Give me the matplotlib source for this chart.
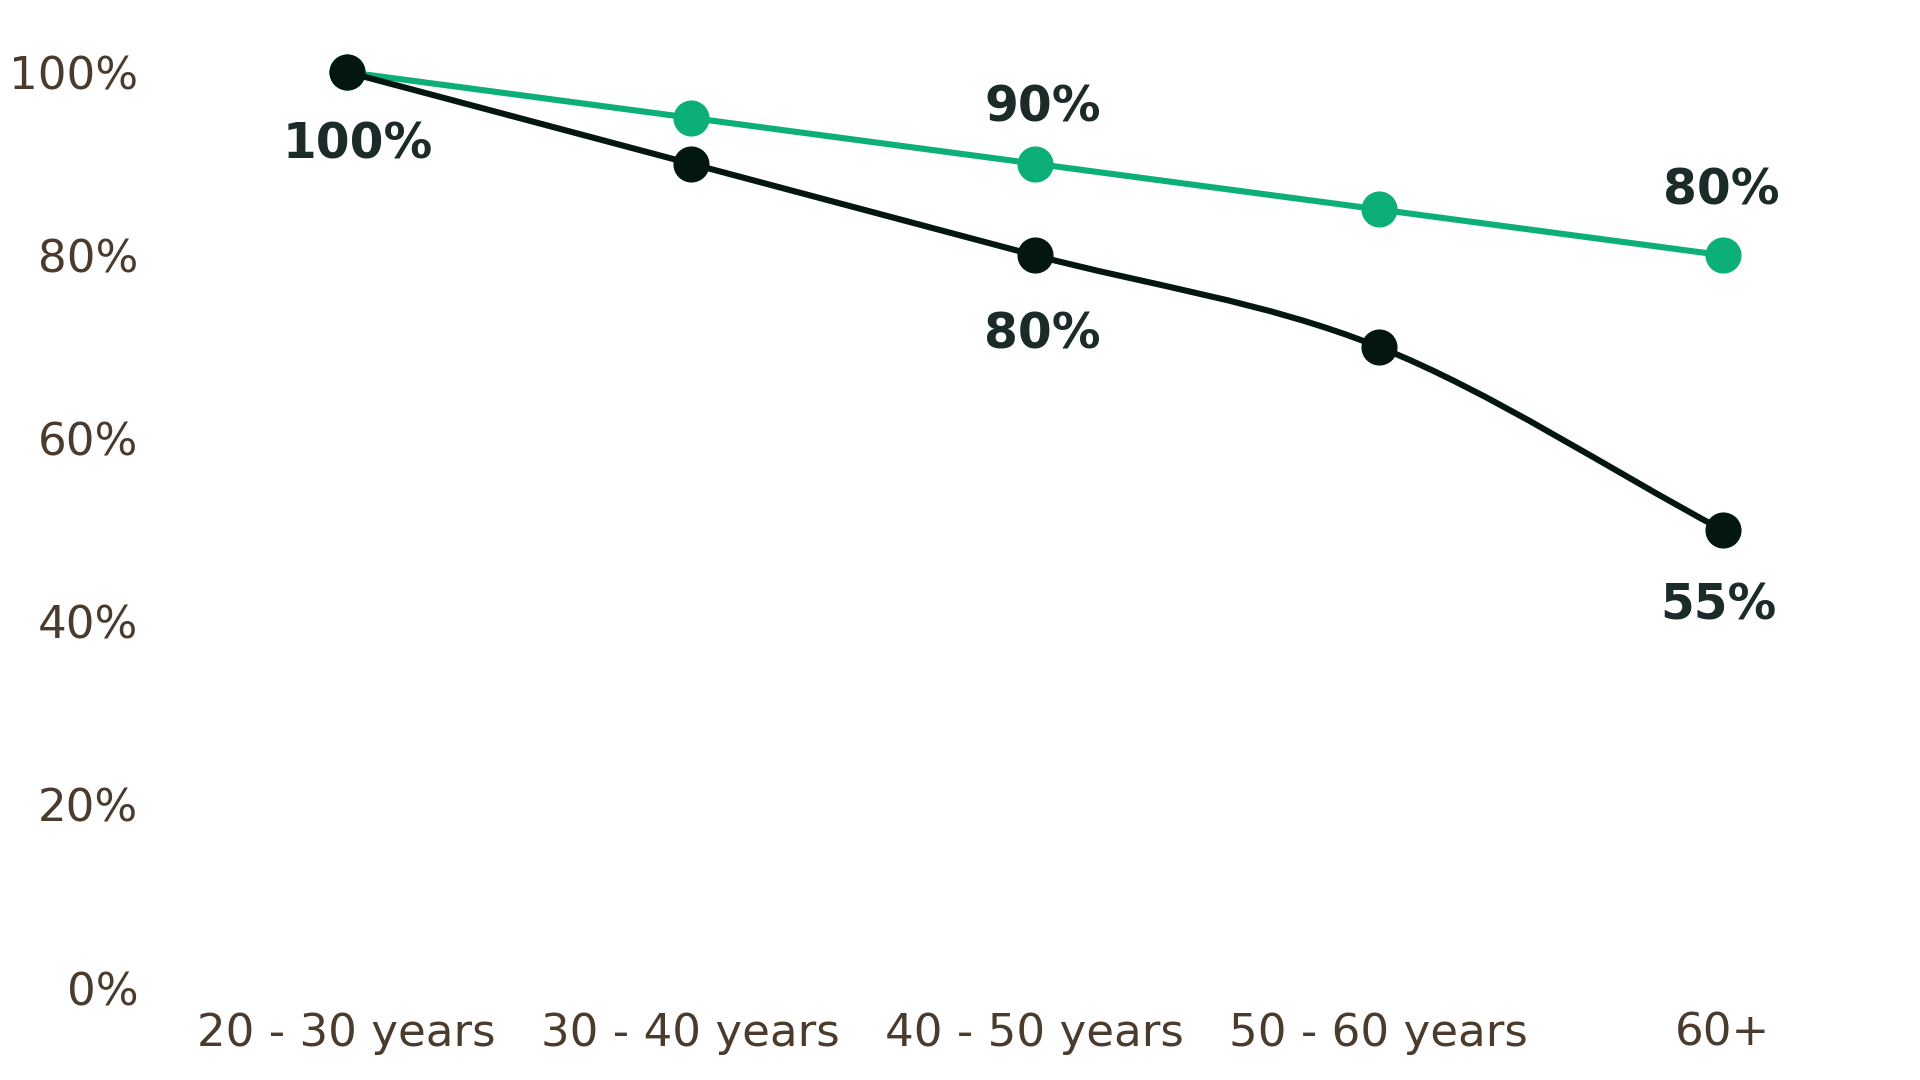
import matplotlib
matplotlib.use('Agg')
import matplotlib.pyplot as plt
from matplotlib.path import Path
from matplotlib.patches import PathPatch
from matplotlib.ticker import FuncFormatter

# data
age_groups = ['20 - 30 years', '30 - 40 years', '40 - 50 years', '50 - 60 years', '60+']
dark_values = [100, 90, 80, 70, 50]
green_values = [100, 95, 90, 85, 80]
dark_labels = ['100%', None, '80%', None, '55%']
green_labels = [None, None, '90%', None, '80%']

DARK = '#041611'
GREEN = '#0DAF78'
LABEL = '#1B2B29'
TICK = '#4A3B2D'

plt.rcParams['font.family'] = ['DejaVu Sans']


def monotone_path(xs, ys):
	# monotone cubic bezier through the points (like a smoothed line chart)
	n = len(xs)
	d = [(ys[i + 1] - ys[i]) / (xs[i + 1] - xs[i]) for i in range(n - 1)]
	m = [d[0]] + [0.0] * (n - 2) + [d[-1]]
	for i in range(1, n - 1):
		if d[i - 1] * d[i] <= 0:
			m[i] = 0.0
		else:
			m[i] = (d[i - 1] + d[i]) / 2
	verts = [(xs[0], ys[0])]
	codes = [Path.MOVETO]
	for i in range(n - 1):
		h = (xs[i + 1] - xs[i]) / 3
		verts += [(xs[i] + h, ys[i] + m[i] * h),
			(xs[i + 1] - h, ys[i + 1] - m[i + 1] * h),
			(xs[i + 1], ys[i + 1])]
		codes += [Path.CURVE4] * 3
	return Path(verts, codes)


fig = plt.figure(figsize=(19.2, 10.8), dpi=100)
ax = fig.add_axes([174.5 / 1920, 92 / 1080, 1720 / 1920, 916 / 1080])
xs = list(range(len(age_groups)))

for vals, col, z in [(green_values, GREEN, 2), (dark_values, DARK, 3)]:
	ax.add_patch(PathPatch(monotone_path(xs, vals), facecolor='none', edgecolor=col,
		linewidth=4.4, capstyle='round', zorder=z, clip_on=False))
	ax.plot(xs, vals, 'o', color=col, markersize=25, zorder=z + 0.5, clip_on=False)

# value labels
dark_off = [(11, -72), None, (8, -79), None, (-4, -75)]
green_off = [None, None, (8, 56), None, (-1, 65)]
for labels, vals, offs in [(dark_labels, dark_values, dark_off), (green_labels, green_values, green_off)]:
	for i, lab in enumerate(labels):
		if lab is None:
			continue
		ax.annotate(lab, (xs[i], vals[i]), xytext=offs[i], textcoords='offset pixels',
			ha='center', va='center', fontsize=35, fontweight='bold', color=LABEL)

ax.set_xlim(-0.5, len(age_groups) - 0.5)
ax.set_ylim(0, 100)
ax.set_xticks(xs)
ax.set_xticklabels(age_groups)
ax.set_yticks([0, 20, 40, 60, 80, 100])
ax.yaxis.set_major_formatter(FuncFormatter(lambda v, p: f'{int(v)}%'))
ax.tick_params(axis='both', length=0, labelsize=32.5, labelcolor=TICK)
ax.tick_params(axis='y', pad=26)
ax.tick_params(axis='x', pad=17)
for s in ax.spines.values():
	s.set_visible(False)

fig.savefig('out.png', dpi=100)
